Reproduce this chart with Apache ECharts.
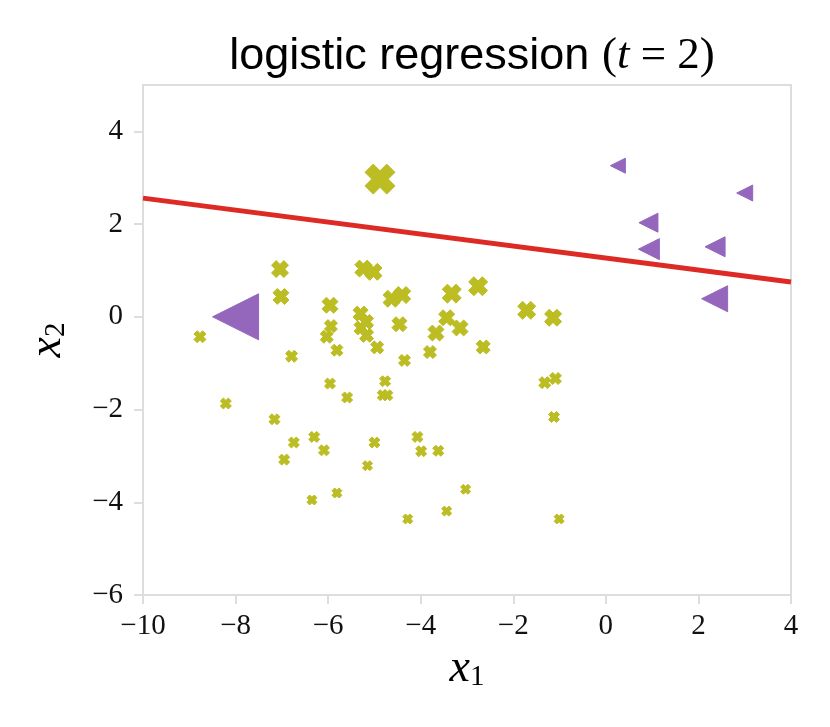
<!DOCTYPE html>
<html>
<head>
<meta charset="utf-8">
<script src="https://cdn.jsdelivr.net/npm/echarts@6/dist/echarts.min.js"></script>
<style>
html,body{margin:0;padding:0;background:#fff;}
#chart{width:830px;height:727px;}
</style>
</head>
<body>
<div id="chart"></div>
<script>
// Class "cross" (olive X markers): x1, x2, sample weight (marker width)
const crossX = [-4.88,-7.04,-7.02,-5.24,-5.02,-5.96,-5.94,-6.03,-5.81,-5.30,-5.18,-5.29,-5.17,-4.94,-4.63,-4.40,-4.46,-8.77,-6.79,-4.35,-3.80,-3.67,-5.96,-4.77,-4.82,-4.72,-5.59,-8.21,-7.16,-6.74,-6.30,-6.09,-6.95,-5.00,-5.15,-4.07,-3.99,-3.62,-5.81,-6.35,-4.28,-3.33,-2.76,-1.71,-1.14,-3.44,-3.15,-2.65,-1.32,-1.09,-1.12,-3.03,-3.44,-1.01];
const crossY = [2.97,1.03,0.44,1.04,0.97,0.25,-0.20,-0.43,-0.72,0.07,-0.11,-0.24,-0.40,-0.66,0.39,0.47,-0.16,-0.43,-0.85,-0.94,-0.76,-0.35,-1.44,-1.39,-1.69,-1.69,-1.74,-1.87,-2.21,-2.71,-2.59,-2.88,-3.08,-2.71,-3.21,-2.59,-2.90,-2.89,-3.80,-3.95,-4.36,0.50,0.66,0.14,-0.02,-0.02,-0.24,-0.65,-1.42,-1.33,-2.16,-3.72,-4.19,-4.36];
const crossWeight = [30,17,16,17,17,16,13,13,12,15,15,14,14,13,17,17,15,12,12,12,13,16,11,11,11,11,11,11,11,11,11,11,11,11,10,11,11,11,10,10,10,19,19,18,17,16,16,14,12,12,11,10,10,10];

// Class "triangle" (purple left triangles)
const triX = [0.26,3.00,0.92,0.93,2.36,2.35,-8.00];
const triY = [3.26,2.67,2.03,1.46,1.51,0.39,0.00];
const triWeight = [15,16,19,21,20,26,46];

// Decision boundary of the logistic regression
const boundaryX = [-10, 4];
const boundaryY = [2.56, 0.75];

// Axis ticks
const xTicks = [-10,-8,-6,-4,-2,0,2,4];
const yTicks = [-6,-4,-2,0,2,4];

const crossData = crossX.map((x,i)=>[x, crossY[i], crossWeight[i]]);
const triData = triX.map((x,i)=>[x, triY[i], triWeight[i]]);
const lineData = boundaryX.map((x,i)=>[x, boundaryY[i]]);

const X_PATH = 'path://M1.1,0L2,0.9L2.9,0L4,1.1L3.1,2L4,2.9L2.9,4L2,3.1L1.1,4L0,2.9L0.9,2L0,1.1Z';
const TRI_PATH = 'path://M0,1L2,0L2,2Z';

const spine = '#dddddd';
const fmt = v => String(v).replace('-', '\u2212');
const labelFont = {fontFamily:'Liberation Serif', fontSize:29, color:'#111'};

const chart = echarts.init(document.getElementById('chart'), null, {renderer:'canvas'});
chart.setOption({
  animation:false,
  backgroundColor:'#ffffff',
  title:{
    left:467, top:29, textAlign:'center',
    text:'{s|logistic regression }{m|(}{i|t}{m| = 2)}',
    textStyle:{
      fontWeight:'normal',
      rich:{
        s:{fontFamily:'Liberation Sans', fontWeight:'normal', fontSize:45, color:'#000'},
        m:{fontFamily:'Liberation Serif', fontWeight:'normal', fontSize:45, color:'#000'},
        i:{fontFamily:'Liberation Serif', fontWeight:'normal', fontStyle:'italic', fontSize:45, color:'#000'}
      }
    }
  },
  grid:{left:143, right:39, top:85, bottom:132, show:true, borderColor:spine, borderWidth:2, backgroundColor:'transparent'},
  xAxis:{
    type:'value', min:-10, max:4, interval:2,
    name:'{i|x}{s|1}', nameLocation:'middle', nameGap:46,
    nameTextStyle:{rich:{
      i:{fontFamily:'Liberation Serif', fontStyle:'italic', fontSize:46, color:'#000', verticalAlign:'bottom', lineHeight:50},
      s:{fontFamily:'Liberation Serif', fontSize:29, color:'#000', verticalAlign:'bottom', lineHeight:36}
    }},
    axisLine:{show:true, onZero:false, lineStyle:{color:spine, width:2}},
    axisTick:{show:true, length:9, lineStyle:{color:spine, width:2}, customValues:xTicks},
    axisLabel:Object.assign({margin:17, formatter:fmt, customValues:xTicks}, labelFont),
    splitLine:{show:false}
  },
  yAxis:{
    type:'value', min:-6, max:5, interval:2,
    name:'{i|x}{s|2}', nameLocation:'middle', nameGap:72, nameRotate:90,
    nameTextStyle:{rich:{
      i:{fontFamily:'Liberation Serif', fontStyle:'italic', fontSize:46, color:'#000', verticalAlign:'bottom', lineHeight:50},
      s:{fontFamily:'Liberation Serif', fontSize:29, color:'#000', verticalAlign:'bottom', lineHeight:36}
    }},
    axisLine:{show:true, onZero:false, lineStyle:{color:spine, width:2}},
    axisTick:{show:true, length:9, lineStyle:{color:spine, width:2}, customValues:yTicks},
    axisLabel:Object.assign({margin:20, formatter:v => (yTicks.indexOf(v) >= 0 ? fmt(v) : ''), customValues:yTicks}, labelFont),
    splitLine:{show:false}
  },
  series:[
    {
      type:'scatter', data:crossData, symbol:X_PATH,
      symbolSize:d=>d[2],
      itemStyle:{color:'#bcbd22', opacity:1, borderColor:'#bcbd22', borderWidth:1, borderJoin:'round'},
      z:2
    },
    {
      type:'scatter', data:triData, symbol:TRI_PATH,
      symbolSize:d=>d[2],
      itemStyle:{color:'#9467bd', opacity:1, borderColor:'#9467bd', borderWidth:1, borderJoin:'round'},
      z:2
    },
    {
      type:'line', data:lineData, showSymbol:false, symbol:'none',
      lineStyle:{color:'#dd2a24', width:5},
      z:3
    }
  ]
});
</script>
</body>
</html>
